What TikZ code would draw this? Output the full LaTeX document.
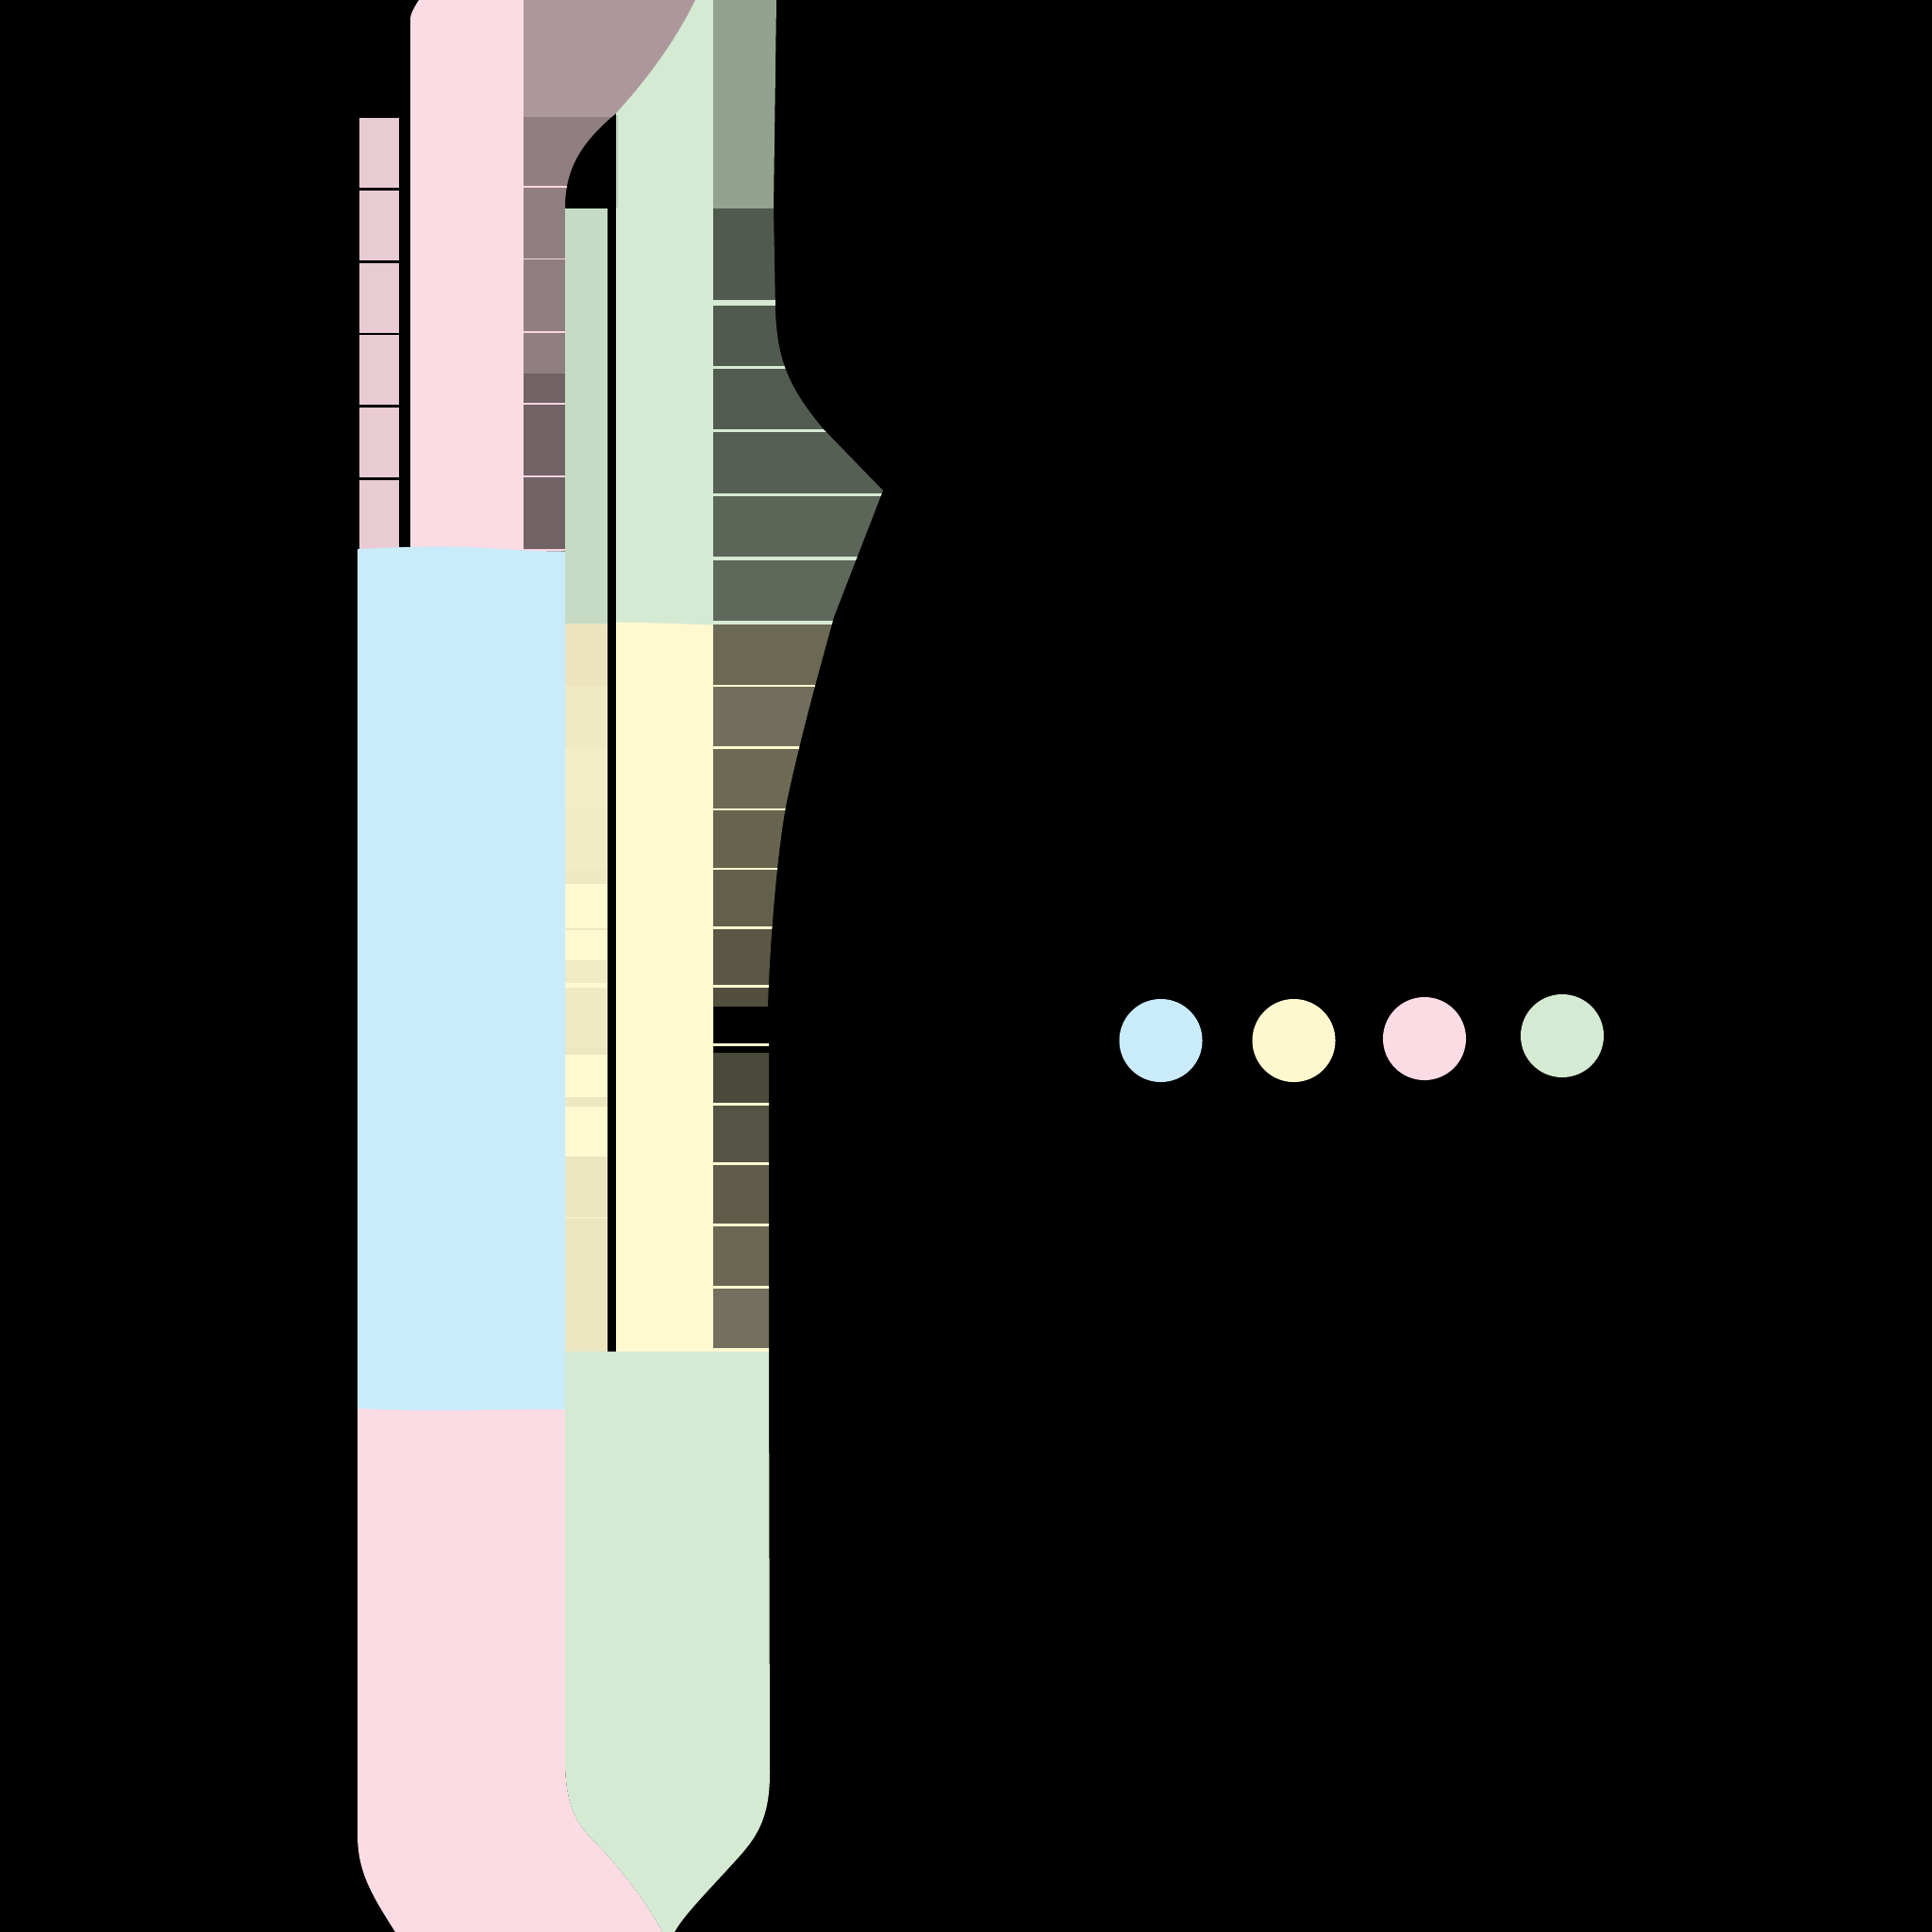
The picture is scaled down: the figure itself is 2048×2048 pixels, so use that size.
\documentclass[tikz,border=0pt]{standalone}
\definecolor{bgpink}{HTML}{FBDCE4}
\definecolor{sqpink}{HTML}{E8CBD3}
\definecolor{lblue}{HTML}{CAEBFA}
\definecolor{lyel}{HTML}{FFF9D0}
\definecolor{dotyel}{HTML}{FEF8CF}
\definecolor{lgreen}{HTML}{D5EAD3}
\definecolor{sgreen}{HTML}{C5DBC3}
\definecolor{edgeg}{HTML}{B8CCB5}
\definecolor{mauveA}{HTML}{AE979C}
\definecolor{mauveB}{HTML}{907E81}
\definecolor{mauveC}{HTML}{716266}
\definecolor{seppink}{HTML}{FAD4DD}
\definecolor{greyg}{HTML}{92A28E}
\tikzset{dot/.style={circle, inner sep=0pt, minimum size=0.88cm}}
\begin{document}
\begin{tikzpicture}[x=0.01cm,y=-0.01cm]
\useasboundingbox (0,0) rectangle (2048,2048);
\fill[black] (0,0) rectangle (2048,2048);

% small pink squares
\foreach \t/\b in {125/198.7,202/276,279/352.7,355/429,432/506,509/582}
  \fill[sqpink] (380.7,\t) rectangle (423,\b);

% big pink column (top)
\fill[bgpink] (435,20) .. controls (435,16) and (437,11) .. (444,0) -- (555,0) -- (555,600) -- (435,600) -- cycle;

% mauve column
\begin{scope}
\clip (555,0) -- (737,0) .. controls (715,45) and (685,85) .. (653,120) .. controls (620,148) and (599,175) .. (599,220) -- (599,590) -- (555,590) -- cycle;
\fill[mauveB] (555,0) rectangle (740,590);
\fill[mauveA] (555,0) rectangle (740,124);
\fill[mauveC] (555,396) rectangle (740,590);
\foreach \y in {197,273.5,351,427.3,504,581.7}
  \fill[seppink] (555,\y) rectangle (740,\y+1.9);
\end{scope}

% big light green column (top)
\fill[lgreen] (737,0) -- (756,0) -- (756,663) -- (653,663) -- (653,120) .. controls (685,85) and (715,45) .. (737,0) -- cycle;
\fill[edgeg] (653,122) rectangle (655,220);

% small green column and its yellowish cells
\fill[sgreen] (599,220.7) rectangle (644,661);
\foreach \t/\b/\c in {661/727/EBE4BF,727/793/EFE9C4,793/857/F3EDC8,857/922/F1EBC6,922/937/EEE8C3,937/984/FFF9D0,984/986/EDE7C2,986/1018/FFF9D0,1018/1042/F0EAC5,1042/1047/FFF9D0,1047/1110/EFE9C4,1110/1118/ECE6C1,1118/1163/FFF9D0,1163/1173/EDE7C2,1173/1226/FFF9D0,1226/1290/EBE5C0,1290/1292/F5EFCA,1292/1433/EBE5C0}
  {\definecolor{tmpc}{HTML}{\c}\fill[tmpc] (599,\t) rectangle (644,\b);}

% big yellow column
\fill[lyel] (653,659.5) -- (700,660.5) -- (756,662.5) -- (756,1434) -- (653,1434) -- cycle;

% dark right column
\begin{scope}
\clip (756,0) -- (823,0) -- (820,221) -- (822,330) .. controls (824,380) and (835,410) .. (873,455) -- (936,520) -- (884,654) .. controls (870,705) and (850,775) .. (834,850) .. controls (824,900) and (816,1000) .. (814,1067) -- (815,1067) -- (815,1440) -- (756,1440) -- cycle;
\foreach \t/\b/\c in {0/221/92A28E,221/318/515A4F,318/324/D5EAD3,324/388/515A4F,388/391/D5EAD3,391/455/525B50,455/458/D5EAD3,458/523/555F53,523/526/D5EAD3,526/590/5B6558,590/594/D5EAD3,594/658/5E685B,658/662/D5EAD3,662/725.5/6B6853,725.5/728/FFF9D0,728/791/716F5B,791/793.5/FFF9D0,793.5/857/6C6955,857/858.5/FFF9D0,858.5/920/67644F,920/922/FFF9D0,922/982/625F4B,982/984.5/FFF9D0,984.5/1044/5A5745,1044/1046.5/FFF9D0,1046.5/1067/524F3F,1106/1109/FFF9D0,1116/1169/4B493C,1169/1171.5/FFF9D0,1171.5/1232/555343,1232/1235/FFF9D0,1235/1297/5F5D4A,1297/1300/FFF9D0,1300/1363/6A6753,1363/1366/FFF9D0,1366/1429/737060,1429/1432.5/FFF9D0}
  {\definecolor{tmpc}{HTML}{\c}\fill[tmpc] (756,\t) rectangle (950,\b);}
\end{scope}

% pink bottom block
\fill[bgpink] (379,1480) -- (599,1480) -- (599,1871) .. controls (600,1915) and (612,1935) .. (630,1952) .. controls (665,1988) and (690,2025) .. (702,2048) -- (419,2048) .. controls (395,2010) and (379,1985) .. (379,1945) -- cycle;

% green bottom block
\fill[lgreen] (599,1432.5) -- (815,1432.5) -- (816,1880) .. controls (816,1930) and (800,1950) .. (780,1972) .. controls (750,2005) and (725,2030) .. (715,2048) -- (702,2048) .. controls (690,2025) and (665,1988) .. (630,1952) .. controls (612,1935) and (600,1915) .. (599,1871) -- cycle;

% blue block
\fill[lblue] (379,582) .. controls (420,580) and (460,578.5) .. (500,580) .. controls (530,581.5) and (560,584.5) .. (599,584.5) -- (599,1494) .. controls (530,1493) and (470,1497.5) .. (379,1493) -- cycle;

% legend dots
\node[dot, fill=lblue]  (d1) at (1230.5,1103) {};
\node[dot, fill=dotyel] (d2) at (1371.5,1103) {};
\node[dot, fill=bgpink] (d3) at (1510,1101) {};
\node[dot, fill=lgreen] (d4) at (1656,1098) {};
\end{tikzpicture}
\end{document}
